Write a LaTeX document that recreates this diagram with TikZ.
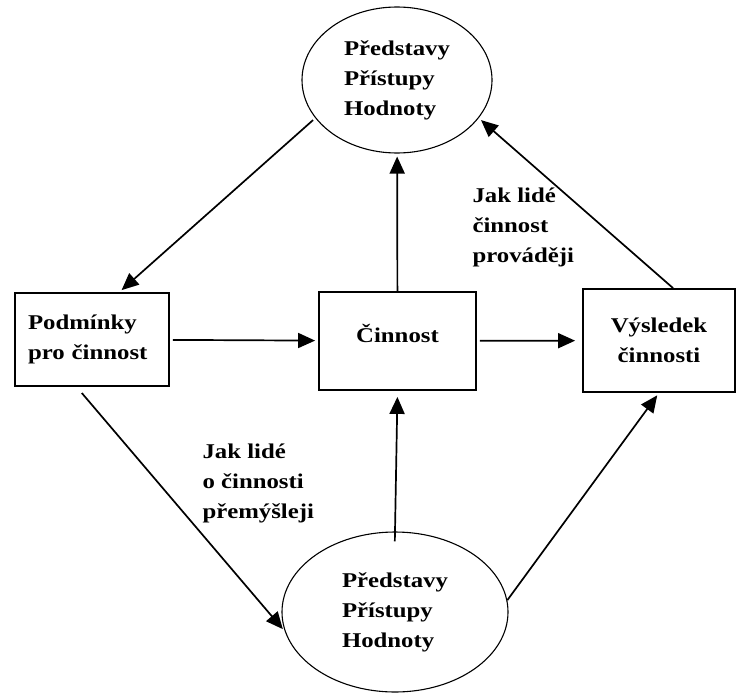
\documentclass[tikz,border=0pt]{standalone}
\usepackage{fontspec}
\setmainfont{Liberation Serif}[FakeStretch=1.18]
\usepackage{tikz}
\usetikzlibrary{shapes,arrows.meta,positioning}

\tikzset{
    box/.style={draw, line width=1.8pt, inner sep=0pt},
    oval/.style={ellipse, draw, line width=1.1pt, inner sep=0pt, align=left},
    lbl/.style={anchor=west, align=left},
    flow/.style={-{Triangle[length=17pt,width=15pt]}, line width=1.7pt, shorten >=3pt, shorten <=3pt},
}

\begin{document}
\begin{tikzpicture}[x=1pt,y=-1pt,font=\fontsize{21}{30}\selectfont\bfseries]
    \useasboundingbox (0,0) rectangle (741,693);

    % Boxes
    \node[box, minimum height=93pt, text width=128pt, inner xsep=13pt, align=left] (cond) at (92,339.5) {Podmínky\\pro činnost};
    \node[box, minimum width=157pt, minimum height=98pt, text depth=16pt] (act) at (397.5,341) {Činnost};
    \node[box, minimum width=152pt, minimum height=103pt, align=center] (res) at (659,340.5) {Výsledek\\činnosti};

    % Ellipses
    \node[oval, minimum width=190pt, minimum height=146pt] (top) at (397,80) {Představy\\Přístupy\\Hodnoty};
    \node[oval, minimum width=226pt, minimum height=160pt] (bot) at (395,612) {Představy\\Přístupy\\Hodnoty};

    % Labels
    \node[lbl] (howdo) at (469,227) {Jak lidé\\činnost\\prováději};
    \node[lbl] (howthink) at (199,483) {Jak lidé\\o činnosti\\přemýšleji};

    % Arrows
    \draw[flow] (top.205) -- (cond.60);
    \draw[flow, shorten <=0pt] (act) -- (top);
    \draw[flow, shorten <=0pt] (res.75) -- (top.-25);
    \draw[flow] (cond) -- (act);
    \draw[flow, shorten >=7pt] (act) -- (res);
    \draw[flow, shorten <=8pt] (cond.252) -- (bot.190);
    \draw[flow, shorten <=-10pt, shorten >=6pt] (bot.north) -- (act.south);
    \draw[flow, shorten <=0pt] (bot.6) -- (res.south);
\end{tikzpicture}
\end{document}
